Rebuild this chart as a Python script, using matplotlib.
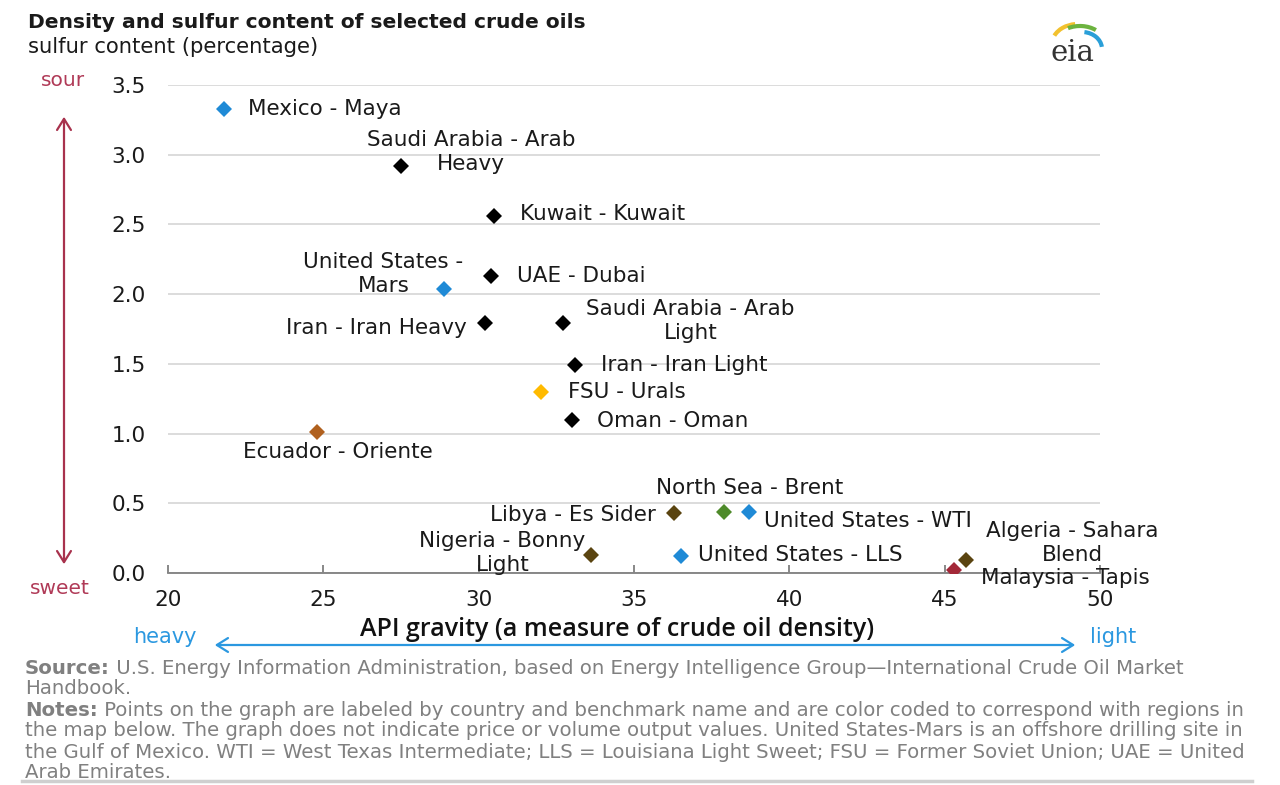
import matplotlib
matplotlib.use("Agg")
import matplotlib.pyplot as plt
from matplotlib.patches import Arc, FancyArrowPatch
from matplotlib.lines import Line2D

plt.rcParams['font.family'] = ['DejaVu Sans']

# ---- data ----
names = ["Mexico - Maya", "Saudi Arabia - Arab\nHeavy", "Kuwait - Kuwait", "UAE - Dubai",
         "United States -\nMars", "Iran - Iran Heavy", "Saudi Arabia - Arab\nLight",
         "Iran - Iran Light", "FSU - Urals", "Oman - Oman", "Ecuador - Oriente",
         "North Sea - Brent", "Libya - Es Sider", "United States - WTI",
         "Nigeria - Bonny\nLight", "United States - LLS", "Algeria - Sahara\nBlend",
         "Malaysia - Tapis"]
api_gravity = [21.8, 27.5, 30.5, 30.4, 28.9, 30.2, 32.7, 33.1, 32.0, 33.0, 24.8,
               37.9, 36.3, 38.7, 33.6, 36.5, 45.7, 45.3]
sulfur = [3.33, 2.92, 2.56, 2.13, 2.04, 1.79, 1.79, 1.49, 1.30, 1.10, 1.01,
          0.44, 0.43, 0.44, 0.13, 0.12, 0.09, 0.02]
region = ["Americas", "MiddleEast", "MiddleEast", "MiddleEast", "Americas", "MiddleEast",
          "MiddleEast", "MiddleEast", "FSU", "MiddleEast", "SouthAmerica", "Europe",
          "Africa", "Americas", "Africa", "Americas", "Africa", "AsiaPacific"]
x_ticks = [20, 25, 30, 35, 40, 45, 50]
y_ticks = [0.0, 0.5, 1.0, 1.5, 2.0, 2.5, 3.0, 3.5]

region_colors = {"Americas": "#1f8ad6", "MiddleEast": "#000000", "FSU": "#ffba00",
                 "SouthAmerica": "#b0601e", "Europe": "#4e8a2a", "Africa": "#5a4410",
                 "AsiaPacific": "#a32838"}

# label offsets in pixels (dx, dy up) and alignment
PX = 72.0 / 100.0
label_pos = [(24, 0, 'left'), (70, 14, 'center'), (26, 2, 'left'), (26, 0, 'left'),
             (-61, 15, 'center'), (-18, -5, 'right'), (128, 2, 'center'),
             (26, 0, 'left'), (27, 0, 'left'), (25, -1, 'left'), (21, -20, 'center'),
             (26, 24, 'center'), (-19, -2, 'right'), (15, -9, 'left'),
             (-88, 2, 'center'), (17, 1, 'left'), (106, 17, 'center'), (27, -8, 'left')]

LBL = 15.5
fig = plt.figure(figsize=(12.8, 7.85), dpi=100)
ax = fig.add_axes([168/1280, 1-573/785, (1100-168)/1280, (573-85)/785])

for xv, yv, r in zip(api_gravity, sulfur, region):
    ax.plot(xv, yv, marker='D', markersize=8.5, color=region_colors[r],
            markeredgewidth=0, linestyle='none', zorder=3)

for n, xv, yv, (dx, dy, ha) in zip(names, api_gravity, sulfur, label_pos):
    ax.annotate(n, (xv, yv), xytext=(dx*PX, dy*PX), textcoords='offset points',
                ha=ha, va='center', fontsize=LBL, color='#1a1a1a',
                linespacing=1.25, zorder=4)

ax.set_xlim(20, 50)
ax.set_ylim(0, 3.5)
ax.set_xticks(x_ticks)
ax.set_yticks(y_ticks)
ax.set_xticklabels([str(v) for v in x_ticks], fontsize=LBL, color='#1a1a1a')
ax.set_yticklabels([f"{v:.1f}" for v in y_ticks], fontsize=LBL, color='#1a1a1a')
ax.tick_params(axis='x', direction='in', length=6, width=1.3, color='#7f7f7f', pad=12)
ax.tick_params(axis='y', length=0, pad=16)
for s in ['top', 'right', 'left']:
    ax.spines[s].set_visible(False)
ax.spines['bottom'].set_color('#7f7f7f')
ax.spines['bottom'].set_linewidth(1.3)
ax.yaxis.grid(True, color='#d9d9d9', linewidth=1.3)
ax.set_axisbelow(True)

# titles
fig.text(28/1280, 1-22/785, "Density and sulfur content of selected crude oils",
         fontsize=14.6, fontweight='bold', color='#1a1a1a', va='center', ha='left')
fig.text(28/1280, 1-47/785, "sulfur content (percentage)",
         fontsize=15.2, color='#1a1a1a', va='center', ha='left')

# sour / sweet arrow
fig.text(63/1280, 1-81/785, "sour", fontsize=14.5, color='#b03a57', ha='center', va='center')
fig.text(60/1280, 1-588/785, "sweet", fontsize=14.5, color='#b03a57', ha='center', va='center')
arr_v = FancyArrowPatch((64/1280, 1-114/785), (64/1280, 1-567/785),
                        transform=fig.transFigure, arrowstyle='<->,head_length=8,head_width=5',
                        color='#a8324d', linewidth=1.6)
fig.patches.append(arr_v)

# heavy / light arrow
fig.text(165/1280, 1-637/785, "heavy", fontsize=15, color='#2b98e0', ha='center', va='center')
fig.text(1113/1280, 1-637/785, "light", fontsize=15, color='#2b98e0', ha='center', va='center')
arr_h = FancyArrowPatch((212/1280, 1-645/785), (1078/1280, 1-645/785),
                        transform=fig.transFigure, arrowstyle='<->,head_length=8,head_width=5',
                        color='#2b98e0', linewidth=1.6)
fig.patches.append(arr_h)
fig.text(617/1280, 1-629/785, "API gravity (a measure of crude oil density)",
         fontsize=18, color='#111111', ha='center', va='center',
         family=['Open Sans', 'DejaVu Sans'], fontweight='semibold')

# footnotes
foot_lines = [
    [("Source:", True), (" U.S. Energy Information Administration, based on Energy Intelligence Group\u2014International Crude Oil Market", False)],
    [("Handbook.", False)],
    [("Notes:", True), (" Points on the graph are labeled by country and benchmark name and are color coded to correspond with regions in", False)],
    [("the map below. The graph does not indicate price or volume output values. United States-Mars is an offshore drilling site in", False)],
    [("the Gulf of Mexico. WTI = West Texas Intermediate; LLS = Louisiana Light Sweet; FSU = Former Soviet Union; UAE = United", False)],
    [("Arab Emirates.", False)],
]
foot_y = [668, 689, 710, 731, 752, 772]
fig.canvas.draw()
renderer = fig.canvas.get_renderer()
for parts, yy in zip(foot_lines, foot_y):
    xx = 25
    for txt, bold in parts:
        t = fig.text(xx/1280, 1-yy/785, txt, fontsize=14.2, color='#808080',
                     fontweight='bold' if bold else 'normal', ha='left', va='center')
        bb = t.get_window_extent(renderer=renderer)
        xx += bb.width

fig.add_artist(Line2D([22/1280, 1252/1280], [1-781/785, 1-781/785], color='#cfcfcf',
                      linewidth=2.5, transform=fig.transFigure))

# eia logo
fig.text(1072/1280, 1-53/785, "eia", fontsize=21, family=['DejaVu Serif'], color='#333333',
         ha='center', va='center')
for (w, h, col, t1, t2, cx, cy) in [(52, 40, '#f2c12e', 95, 150, 1078, 44),
                                    (50, 36, '#6cb33f', 55, 115, 1080, 44),
                                    (40, 34, '#2a9fd8', 10, 85, 1082, 49)]:
    fig.add_artist(Arc((cx/1280, 1-cy/785), w/1280, h/785, theta1=t1, theta2=t2,
                       color=col, linewidth=3, transform=fig.transFigure))

fig.savefig("out.png", dpi=100, facecolor='white')
